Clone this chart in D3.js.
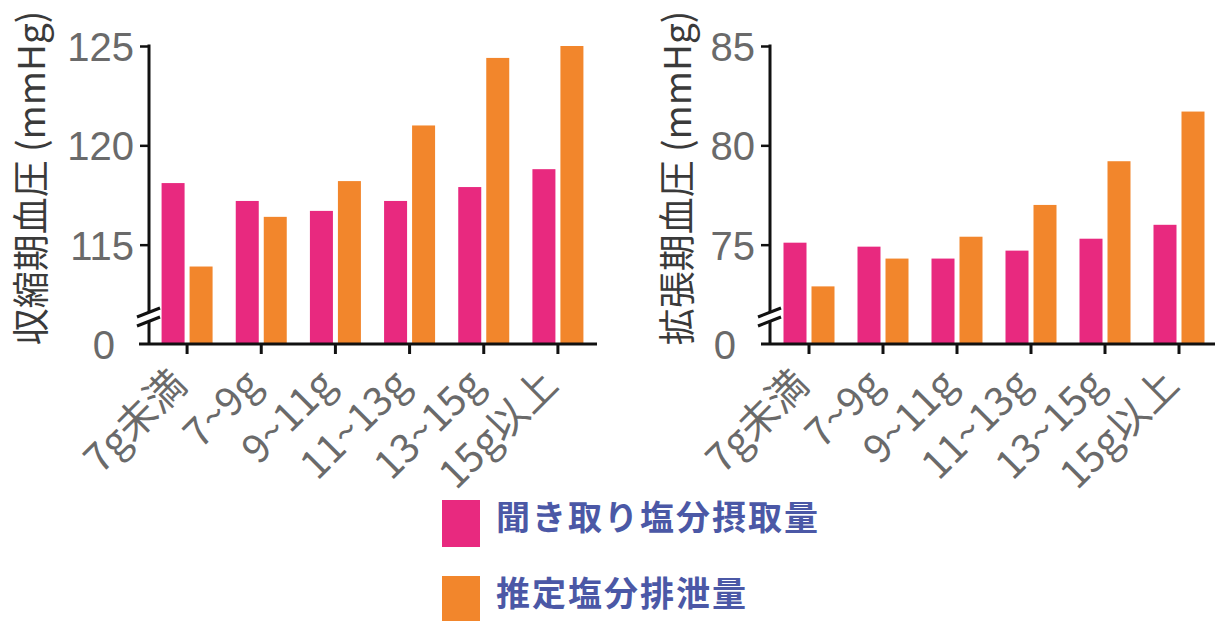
<!DOCTYPE html>
<html><head><meta charset="utf-8">
<script src="https://cdn.jsdelivr.net/npm/d3@7"></script>
<style>
html,body{margin:0;padding:0;background:#fff;}
svg{display:block;}
</style></head>
<body>
<svg id="chart" width="1215" height="621"></svg>
<script>
const categories = ["7g未満","7~9g","9~11g","11~13g","13~15g","15g以上"];
const series = ["聞き取り塩分摂取量","推定塩分排泄量"];
const seriesColors = ["#e8297f","#f2862c"];
const systolicIntake = [118.1,117.2,116.7,117.2,117.9,118.8];
const systolicExcretion = [113.9,116.4,118.2,121.0,124.4,125.0];
const diastolicIntake = [75.1,74.9,74.3,74.7,75.3,76.0];
const diastolicExcretion = [72.9,74.3,75.4,77.0,79.2,81.7];
const systolicTicks = [110,115,120,125];   // 110 shown as "0" (axis break)
const diastolicTicks = [70,75,80,85];      // 70 shown as "0" (axis break)
const systolicTitle = "収縮期血圧 (mmHg)";
const diastolicTitle = "拡張期血圧 (mmHg)";

const svg = d3.select("#chart");
const numFont = "'Liberation Sans', Arial, sans-serif";
const cjkFont = "'Noto Sans CJK JP', 'Liberation Sans', sans-serif";

function panel(cfg){
  const g = svg.append("g");
  const base = cfg.ticks[0];
  const y = d3.scaleLinear().domain([base, cfg.ticks[cfg.ticks.length-1]]).range([344, 46]);
  const x = d3.scaleBand().domain(categories).range(cfg.xRange).padding(0);
  const x1 = d3.scaleBand().domain(series).range([-25.5, 25.5]).paddingInner(5/28);
  const rows = categories.map((c,i)=>({c, vals:[cfg.a[i], cfg.b[i]]}));

  // bars
  const grp = g.selectAll("g.grp").data(rows).join("g")
    .attr("transform", d=>`translate(${x(d.c)+x.bandwidth()/2},0)`);
  grp.selectAll("rect").data(d=>d.vals.map((v,j)=>({s:series[j], v, j}))).join("rect")
    .attr("x", d=>x1(d.s))
    .attr("width", x1.bandwidth())
    .attr("y", d=>y(d.v))
    .attr("height", d=>y(base) - y(d.v))
    .attr("fill", d=>seriesColors[d.j]);

  // y axis
  const yAxis = d3.axisLeft(y).tickValues(cfg.ticks)
    .tickFormat(d=> d===base ? "0" : d)
    .tickSize(9).tickPadding(6);
  const ya = g.append("g").attr("transform",`translate(${cfg.axisX},0)`).call(yAxis);
  ya.select(".domain").attr("stroke","#111").attr("stroke-width",3).attr("d",`M0,${y(cfg.ticks[cfg.ticks.length-1])-1.5}V${y(base)}`);
  ya.selectAll(".tick line").attr("stroke","#111").attr("stroke-width",2.5);
  ya.selectAll(".tick").filter(d=>d===base).select("line").remove();
  ya.selectAll(".tick text").attr("font-family",numFont).attr("font-size",40)
    .attr("fill","#6a6a6a").attr("dy","0.36em");
  ya.selectAll(".tick").filter(d=>d===base).select("text").attr("x",-34);

  // x axis
  const xAxis = d3.axisBottom(x).tickSize(10).tickFormat("");
  const xa = g.append("g").attr("transform",`translate(0,${y(base)})`).call(xAxis);
  xa.select(".domain").attr("stroke","#111").attr("stroke-width",3)
    .attr("d",`M${cfg.xLineStart},0H${cfg.xLineEnd}`);
  xa.selectAll(".tick line").attr("stroke","#111").attr("stroke-width",3);
  xa.selectAll(".tick").append("text")
    .text(d=>d)
    .attr("text-anchor","end")
    .attr("transform","translate(2,43) rotate(-45)")
    .attr("font-family", cjkFont)
    .attr("font-size",40)
    .attr("fill","#6a6a6a");

  // axis break
  const by = 317, bx = cfg.axisX;
  const brk = g.append("g");
  brk.append("path")
    .attr("d",`M${bx-12},${by+4}L${bx+11},${by-5}L${bx+11},${by-14}L${bx-12},${by-5}Z`)
    .attr("fill","#fff").attr("transform","translate(0,5)");
  brk.append("line").attr("x1",bx-12).attr("y1",by+9).attr("x2",bx+11).attr("y2",by)
    .attr("stroke","#111").attr("stroke-width",3);
  brk.append("line").attr("x1",bx-12).attr("y1",by).attr("x2",bx+11).attr("y2",by-9)
    .attr("stroke","#111").attr("stroke-width",3);

  // title
  g.append("text")
    .attr("transform",`translate(${cfg.titleX},178) rotate(-90)`)
    .attr("text-anchor","middle")
    .attr("font-family", cjkFont)
    .attr("font-size",37)
    .attr("fill","#3a3a3a")
    .text(cfg.title);
}

panel({ticks:systolicTicks, a:systolicIntake, b:systolicExcretion, axisX:149,
  xRange:[150,595], xLineStart:139, xLineEnd:597, titleX:45, title:systolicTitle});
panel({ticks:diastolicTicks, a:diastolicIntake, b:diastolicExcretion, axisX:770,
  xRange:[772,1216], xLineStart:761, xLineEnd:1215, titleX:691, title:diastolicTitle});

// legend
const leg = svg.append("g");
series.forEach((s,i)=>{
  const yy = 500 + i*76;
  leg.append("rect").attr("x",442).attr("y",yy).attr("width",38).attr("height",47).attr("fill",seriesColors[i]);
  leg.append("text").attr("x",496).attr("y",yy+30)
    .attr("font-family",cjkFont).attr("font-weight","bold")
    .attr("font-size",34).attr("letter-spacing",2)
    .attr("fill","#4b58a6").text(s);
});
</script>
</body></html>
